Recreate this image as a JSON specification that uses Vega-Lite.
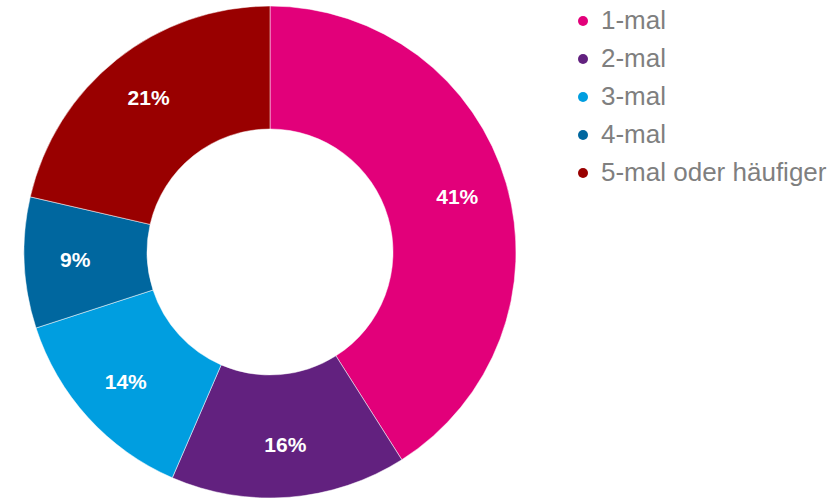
{
  "$schema": "https://vega.github.io/schema/vega-lite/v6.json",
  "width": 540,
  "height": 494,
  "autosize": {"type": "none"},
  "padding": {"left": 0, "top": 5, "right": 297, "bottom": 0},
  "background": "white",
  "data": {
    "values": [
      {"category": "1-mal", "value": 41.0, "label": "41%"},
      {"category": "2-mal", "value": 15.5, "label": "16%"},
      {"category": "3-mal", "value": 13.5, "label": "14%"},
      {"category": "4-mal", "value": 8.6, "label": "9%"},
      {"category": "5-mal oder häufiger", "value": 21.4, "label": "21%"}
    ]
  },
  "encoding": {
    "theta": {"field": "value", "type": "quantitative", "stack": true},
    "order": {"field": "category", "sort": "ascending"},
    "color": {
      "field": "category",
      "type": "nominal",
      "scale": {
        "domain": ["1-mal", "2-mal", "3-mal", "4-mal", "5-mal oder häufiger"],
        "range": ["#E2007A", "#62217F", "#009EE0", "#00679F", "#990000"]
      },
      "legend": {
        "title": null,
        "orient": "none",
        "legendX": 570,
        "legendY": 3,
        "padding": 0,
        "symbolType": "circle",
        "symbolSize": 100,
        "symbolStrokeWidth": 0,
        "labelFont": "Liberation Sans",
        "labelFontSize": 26,
        "labelColor": "#7f7f7f",
        "labelOffset": 5,
        "rowPadding": 12,
        "labelLimit": 400
      }
    }
  },
  "layer": [
    {
      "mark": {"type": "arc", "innerRadius": 123, "outerRadius": 246, "stroke": "white", "strokeWidth": 0.5}
    },
    {
      "mark": {"type": "text", "radius": 195, "fontSize": 21, "fontWeight": "bold", "font": "Liberation Sans"},
      "encoding": {
        "text": {"field": "label"},
        "color": {"value": "white"},
        "detail": {"field": "category"}
      }
    }
  ],
  "config": {"view": {"stroke": null}}
}
